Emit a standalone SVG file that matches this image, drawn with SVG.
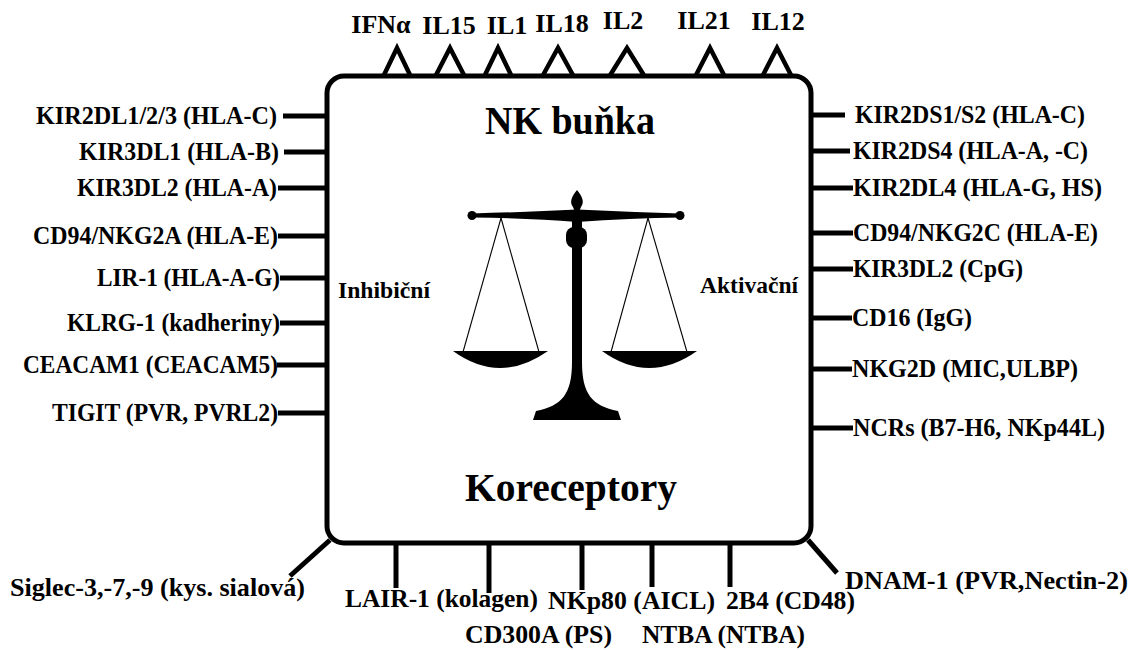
<svg xmlns="http://www.w3.org/2000/svg" width="1136" height="650" viewBox="0 0 1136 650">
  <style>
    text { font-family: "Liberation Serif", "Times New Roman", serif; font-weight: bold; fill: #000; }
    .lbl { font-size: 26px; }
    .cyt { font-size: 26px; text-anchor: middle; }
    .title { font-size: 40px; }
    .side { font-size: 23px; }
    .cell { fill: #fff; stroke: #000; stroke-width: 5; }
    .con { stroke: #000; stroke-width: 5; fill: none; stroke-linecap: butt; }
    .tri { stroke: #000; stroke-width: 4.5; fill: #fff; stroke-linejoin: miter; }
    .str { stroke: #000; stroke-width: 1.1; fill: none; }
  </style>

  <!-- connectors: receptor stalks from the cell membrane -->
  <g id="connectors">
    <!-- inhibitory receptors (left) -->
    <line class="con" x1="283" y1="116" x2="327" y2="116"/>
    <line class="con" x1="284" y1="152" x2="327" y2="152"/>
    <line class="con" x1="278" y1="188" x2="327" y2="188"/>
    <line class="con" x1="278" y1="236" x2="327" y2="236"/>
    <line class="con" x1="280" y1="278" x2="327" y2="278"/>
    <line class="con" x1="280" y1="323" x2="327" y2="323"/>
    <line class="con" x1="277" y1="365" x2="327" y2="365"/>
    <line class="con" x1="278" y1="413" x2="327" y2="413"/>
    <!-- activating receptors (right) -->
    <line class="con" x1="811" y1="115" x2="845" y2="115"/>
    <line class="con" x1="811" y1="151" x2="850" y2="151"/>
    <line class="con" x1="811" y1="188" x2="853" y2="188"/>
    <line class="con" x1="811" y1="233" x2="853" y2="233"/>
    <line class="con" x1="811" y1="269" x2="853" y2="269"/>
    <line class="con" x1="811" y1="318" x2="852" y2="318"/>
    <line class="con" x1="811" y1="369" x2="852" y2="369"/>
    <line class="con" x1="811" y1="428" x2="853" y2="428"/>
    <!-- coreceptors (bottom) -->
    <line class="con" x1="330" y1="540" x2="290" y2="576"/>
    <line class="con" x1="396" y1="543" x2="396" y2="588"/>
    <line class="con" x1="489" y1="543" x2="489" y2="593"/>
    <line class="con" x1="582" y1="543" x2="582" y2="590"/>
    <line class="con" x1="652" y1="543" x2="652" y2="587"/>
    <line class="con" x1="730" y1="543" x2="730" y2="587"/>
    <line class="con" x1="808" y1="540" x2="837" y2="573"/>
  </g>

  <!-- cytokine receptors on top of the cell -->
  <g id="cytokine-receptors">
    <polyline class="tri" points="383,77 397,48 411,77"/>
    <polyline class="tri" points="435,77 450,48 465,77"/>
    <polyline class="tri" points="484,77 498,48 512,77"/>
    <polyline class="tri" points="542,77 558,48 574,77"/>
    <polyline class="tri" points="609,77 627,48 645,77"/>
    <polyline class="tri" points="695,77 710,48 725,77"/>
    <polyline class="tri" points="762,77 777,48 792,77"/>
  </g>

  <!-- NK cell body -->
  <g id="nk-cell">
    <rect class="cell" x="327" y="76" width="484" height="467" rx="17" ry="17"/>
    <text class="title" x="485" y="134" textLength="170" lengthAdjust="spacingAndGlyphs">NK buňka</text>
    <text class="title" x="465" y="501" textLength="212" lengthAdjust="spacingAndGlyphs">Koreceptory</text>
    <text class="side" x="338" y="298" textLength="92" lengthAdjust="spacingAndGlyphs">Inhibiční</text>
    <text class="side" x="700" y="293" textLength="98" lengthAdjust="spacingAndGlyphs">Aktivační</text>
  </g>

  <!-- balance scale -->
  <g id="balance">
    <!-- strings -->
    <line class="str" x1="501" y1="218" x2="463" y2="352"/>
    <line class="str" x1="501" y1="218" x2="539" y2="352"/>
    <line class="str" x1="648" y1="218" x2="611" y2="352"/>
    <line class="str" x1="648" y1="218" x2="687" y2="352"/>
    <!-- beam -->
    <path d="M472,213.5 Q530,212 577,209.5 Q630,212 680,213.5 L680,217.5 Q630,218 577,222 Q530,218 472,217.5 Z" fill="#000"/>
    <circle cx="472" cy="215.5" r="4.5" fill="#000"/>
    <circle cx="680" cy="215.5" r="4.5" fill="#000"/>
    <!-- finial -->
    <path d="M577,190 C572,196 569,202 573,207 L575,212 L579,212 L581,207 C585,202 582,196 577,190 Z" fill="#000"/>
    <!-- knob and column -->
    <rect x="572" y="218" width="10" height="12" fill="#000"/>
    <rect x="566" y="227" width="21" height="21" rx="8" ry="8" fill="#000"/>
    <path d="M572,246 L572,362 C572,394 562,406 536,411 L533,420 L621,420 L618,411 C592,406 582,394 582,362 L582,246 Z" fill="#000"/>
    <!-- pans -->
    <path d="M453,351 L548,351 Q500,385 453,351 Z" fill="#000"/>
    <path d="M602,351 L697,351 Q649,385 602,351 Z" fill="#000"/>
  </g>

  <!-- cytokine labels -->
  <g id="cytokines">
    <text class="cyt" x="381" y="33">IFNα</text>
    <text class="cyt" x="449" y="34">IL15</text>
    <text class="cyt" x="507" y="34">IL1</text>
    <text class="cyt" x="562" y="32">IL18</text>
    <text class="cyt" x="623" y="29">IL2</text>
    <text class="cyt" x="704" y="29">IL21</text>
    <text class="cyt" x="778" y="30">IL12</text>
  </g>

  <!-- inhibitory receptors -->
  <g id="inhibitory">
    <text id="kir2dl123" class="lbl" x="36" y="124" textLength="241" lengthAdjust="spacingAndGlyphs">KIR2DL1/2/3 (HLA-C)</text>
    <text id="kir3dl1" class="lbl" x="79" y="160" textLength="200" lengthAdjust="spacingAndGlyphs">KIR3DL1 (HLA-B)</text>
    <text id="kir3dl2-a" class="lbl" x="77" y="196" textLength="200" lengthAdjust="spacingAndGlyphs">KIR3DL2 (HLA-A)</text>
    <text id="cd94-nkg2a" class="lbl" x="33" y="244" textLength="245" lengthAdjust="spacingAndGlyphs">CD94/NKG2A (HLA-E)</text>
    <text id="lir1" class="lbl" x="97" y="286" textLength="183" lengthAdjust="spacingAndGlyphs">LIR-1 (HLA-A-G)</text>
    <text id="klrg1" class="lbl" x="67" y="331" textLength="213" lengthAdjust="spacingAndGlyphs">KLRG-1 (kadheriny)</text>
    <text id="ceacam1" class="lbl" x="23" y="373" textLength="255" lengthAdjust="spacingAndGlyphs">CEACAM1 (CEACAM5)</text>
    <text id="tigit" class="lbl" x="52" y="421" textLength="226" lengthAdjust="spacingAndGlyphs">TIGIT (PVR, PVRL2)</text>
  </g>

  <!-- activating receptors -->
  <g id="activating">
    <text id="kir2ds12" class="lbl" x="855" y="123" textLength="230" lengthAdjust="spacingAndGlyphs">KIR2DS1/S2 (HLA-C)</text>
    <text id="kir2ds4" class="lbl" x="853" y="159" textLength="235" lengthAdjust="spacingAndGlyphs">KIR2DS4 (HLA-A, -C)</text>
    <text id="kir2dl4" class="lbl" x="853" y="196" textLength="249" lengthAdjust="spacingAndGlyphs">KIR2DL4 (HLA-G, HS)</text>
    <text id="cd94-nkg2c" class="lbl" x="853" y="241" textLength="245" lengthAdjust="spacingAndGlyphs">CD94/NKG2C (HLA-E)</text>
    <text id="kir3dl2-cpg" class="lbl" x="853" y="277" textLength="170" lengthAdjust="spacingAndGlyphs">KIR3DL2 (CpG)</text>
    <text id="cd16" class="lbl" x="852" y="326" textLength="120" lengthAdjust="spacingAndGlyphs">CD16 (IgG)</text>
    <text id="nkg2d" class="lbl" x="852" y="377" textLength="226" lengthAdjust="spacingAndGlyphs">NKG2D (MIC,ULBP)</text>
    <text id="ncrs" class="lbl" x="853" y="436" textLength="252" lengthAdjust="spacingAndGlyphs">NCRs (B7-H6, NKp44L)</text>
  </g>

  <!-- coreceptors -->
  <g id="coreceptors">
    <text id="siglec" class="lbl" x="10" y="596" textLength="295" lengthAdjust="spacingAndGlyphs">Siglec-3,-7,-9 (kys. sialová)</text>
    <text id="lair1" class="lbl" x="345" y="607" textLength="193" lengthAdjust="spacingAndGlyphs">LAIR-1 (kolagen)</text>
    <text id="nkp80" class="lbl" x="548" y="609" textLength="167" lengthAdjust="spacingAndGlyphs">NKp80 (AICL)</text>
    <text id="b2b4" class="lbl" x="726" y="609" textLength="129" lengthAdjust="spacingAndGlyphs">2B4 (CD48)</text>
    <text id="cd300a" class="lbl" x="465" y="643" textLength="147" lengthAdjust="spacingAndGlyphs">CD300A (PS)</text>
    <text id="ntba" class="lbl" x="642" y="643" textLength="163" lengthAdjust="spacingAndGlyphs">NTBA (NTBA)</text>
    <text id="dnam1" class="lbl" x="845" y="589" textLength="283" lengthAdjust="spacingAndGlyphs">DNAM-1 (PVR,Nectin-2)</text>
  </g>
</svg>
